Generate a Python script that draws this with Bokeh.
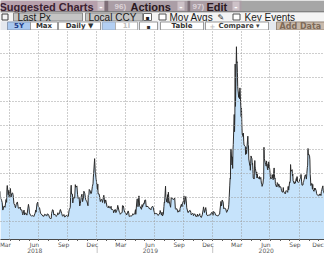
import pandas as pd
from bokeh.plotting import figure
from bokeh.layouts import column
from bokeh.models import Range1d, FixedTicker
from bokeh.core.properties import value
from bokeh.embed import file_html
from bokeh.resources import INLINE

# ---------------- data (daily closes, MM-DD per year) -------------
DATES_2018 = ("03-01 03-02 03-05 03-07 03-09 03-13 03-16 03-19 03-21 03-22 03-23 03-26 03-28 03-29 "
              "04-02 04-04 04-06 04-09 04-11 04-13 04-16 04-18 04-20 04-24 04-26 04-27 "
              "05-01 05-03 05-04 05-08 05-10 05-11 05-15 05-17 05-18 05-22 05-24 05-25 05-29 05-31 "
              "06-01 06-05 06-07 06-08 06-12 06-14 06-15 06-19 06-21 06-22 06-25 06-27 06-29 "
              "07-03 07-06 07-10 07-12 07-13 07-17 07-19 07-20 07-24 07-26 07-27 07-31 "
              "08-02 08-03 08-07 08-09 08-10 08-13 08-15 08-17 08-21 08-23 08-24 08-28 08-30 08-31 "
              "09-04 09-06 09-07 09-11 09-13 09-14 09-18 09-20 09-21 09-25 09-27 09-28 "
              "10-02 10-04 10-05 10-08 10-10 10-11 10-12 10-15 10-16 10-18 10-19 10-22 10-24 10-25 10-26 10-29 10-31 "
              "11-02 11-05 11-07 11-09 11-12 11-14 11-16 11-19 11-20 11-23 11-26 11-28 11-30 "
              "12-03 12-04 12-06 12-07 12-10 12-12 12-14 12-17 12-19 12-20 12-21 12-24 12-26 12-27 12-28 12-31").split()
VIX_2018 = [22.47, 19.59, 18.73, 17.76, 14.64, 16.35, 15.80, 19.02, 17.86, 23.34, 24.87, 21.03, 22.87, 19.97,
            23.62, 20.06, 21.49, 21.77, 20.47, 17.41, 16.56, 15.60, 16.88, 18.02, 16.24, 15.41,
            15.49, 15.90, 14.77, 14.71, 13.23, 12.65, 14.63, 12.59, 13.42, 13.22, 12.53, 13.22, 17.02, 15.43,
            13.46, 12.40, 12.13, 12.18, 12.34, 12.12, 11.98, 13.35, 14.64, 13.77, 17.33, 17.91, 16.09,
            15.60, 13.37, 12.64, 12.58, 12.18, 12.06, 12.87, 12.86, 12.41, 12.14, 13.03, 12.83,
            12.19, 11.64, 10.93, 11.27, 13.16, 14.78, 14.64, 12.64, 12.86, 12.41, 11.99, 12.50, 13.53, 12.86,
            13.16, 14.65, 14.88, 13.22, 12.37, 12.07, 12.79, 11.80, 11.68, 12.42, 12.41, 12.12,
            12.05, 14.22, 14.82, 15.69, 22.96, 24.98, 21.31, 21.30, 17.62, 20.06, 19.89, 19.64, 25.23, 24.22, 24.16, 24.70, 21.23,
            19.51, 19.96, 16.36, 17.36, 20.45, 21.25, 18.14, 20.10, 22.48, 21.52, 18.90, 18.49, 18.07,
            16.44, 20.74, 21.19, 23.23, 22.64, 21.46, 21.63, 24.52, 25.58, 28.38, 30.11, 36.07, 30.41, 29.96, 28.34, 25.42]

DATES_2019 = ("01-02 01-03 01-04 01-07 01-09 01-11 01-14 01-16 01-18 01-22 01-24 01-25 01-28 01-30 "
              "02-01 02-05 02-07 02-08 02-12 02-14 02-15 02-19 02-21 02-22 02-26 02-28 "
              "03-01 03-05 03-07 03-08 03-12 03-14 03-15 03-19 03-21 03-22 03-25 03-27 03-29 "
              "04-02 04-04 04-05 04-09 04-11 04-12 04-16 04-18 04-22 04-24 04-26 04-30 "
              "05-02 05-03 05-07 05-09 05-10 05-13 05-15 05-17 05-21 05-23 05-24 05-28 05-30 05-31 "
              "06-03 06-05 06-07 06-11 06-13 06-14 06-18 06-20 06-21 06-25 06-27 06-28 "
              "07-02 07-05 07-09 07-11 07-12 07-16 07-18 07-19 07-23 07-25 07-26 07-29 07-31 "
              "08-01 08-02 08-05 08-06 08-07 08-09 08-12 08-13 08-14 08-16 08-19 08-21 08-23 08-26 08-28 08-30 "
              "09-03 09-05 09-06 09-10 09-12 09-13 09-17 09-19 09-20 09-24 09-26 09-27 "
              "10-01 10-02 10-03 10-04 10-08 10-10 10-11 10-15 10-17 10-18 10-22 10-24 10-25 10-29 10-31 "
              "11-01 11-05 11-07 11-08 11-12 11-14 11-15 11-19 11-21 11-22 11-26 11-29 "
              "12-02 12-03 12-05 12-06 12-10 12-12 12-13 12-17 12-19 12-20 12-24 12-26 12-27 12-31").split()
VIX_2019 = [23.22, 25.45, 21.38, 21.40, 19.98, 18.19, 19.07, 19.04, 17.80, 20.80, 18.89, 17.42, 18.87, 17.66,
            16.14, 15.57, 16.37, 15.72, 15.43, 16.22, 14.91, 14.88, 14.46, 13.51, 14.85, 14.78,
            13.57, 14.74, 16.59, 16.05, 13.77, 13.50, 12.88, 13.56, 13.63, 16.48, 16.33, 14.68, 13.71,
            13.36, 12.58, 12.82, 14.28, 13.30, 12.01, 12.18, 12.09, 12.42, 13.14, 12.73, 13.12,
            14.80, 12.87, 19.32, 19.10, 16.04, 20.55, 16.44, 15.96, 14.95, 16.92, 15.85, 17.50, 17.30, 18.71,
            18.86, 15.93, 16.30, 15.99, 15.82, 15.28, 15.15, 14.75, 15.40, 16.28, 15.82, 15.08,
            12.93, 13.28, 13.03, 12.93, 12.39, 12.86, 13.53, 14.45, 12.61, 13.74, 12.16, 12.83, 16.12,
            17.87, 17.61, 24.59, 20.17, 19.49, 17.97, 21.09, 17.52, 22.10, 18.47, 16.88, 15.80, 19.87, 19.32, 19.35, 18.98,
            19.66, 15.27, 15.00, 15.20, 14.22, 13.74, 14.44, 14.05, 15.32, 17.05, 16.07, 17.22,
            18.56, 20.56, 19.12, 17.04, 20.28, 17.57, 15.58, 13.54, 13.79, 14.25, 14.46, 13.71, 12.65, 13.20, 13.22,
            12.30, 13.10, 12.73, 12.07, 11.99, 13.00, 12.05, 12.41, 13.13, 12.34, 11.54, 12.62,
            14.91, 15.96, 14.52, 13.62, 15.68, 13.94, 12.63, 12.29, 12.50, 12.51, 12.67, 12.65, 13.43, 13.78]

DATES_2020 = ("01-02 01-03 01-06 01-08 01-10 01-14 01-16 01-17 01-21 01-23 01-24 01-27 01-29 01-31 "
              "02-03 02-05 02-07 02-11 02-13 02-14 02-18 02-20 02-21 02-24 02-25 02-26 02-27 02-28 "
              "03-02 03-03 03-04 03-05 03-06 03-09 03-10 03-11 03-12 03-13 03-16 03-17 03-18 03-19 03-20 "
              "03-23 03-24 03-25 03-26 03-27 03-30 03-31 "
              "04-01 04-02 04-03 04-06 04-07 04-08 04-09 04-13 04-14 04-15 04-16 04-17 04-20 04-21 04-22 04-23 04-24 "
              "04-27 04-28 04-29 04-30 05-01 05-04 05-05 05-06 05-07 05-08 05-11 05-12 05-13 05-14 05-15 "
              "05-18 05-19 05-20 05-21 05-22 05-26 05-27 05-28 05-29 06-01 06-02 06-03 06-04 06-05 "
              "06-08 06-09 06-10 06-11 06-12 06-15 06-16 06-17 06-18 06-19 06-22 06-23 06-24 06-25 06-26 "
              "06-29 06-30 07-01 07-02 07-06 07-07 07-08 07-09 07-10 07-13 07-14 07-15 07-16 07-17 "
              "07-20 07-21 07-22 07-23 07-24 07-27 07-28 07-29 07-30 07-31 08-03 08-04 08-05 08-06 08-07 "
              "08-10 08-11 08-12 08-13 08-14 08-17 08-18 08-19 08-20 08-21 08-24 08-25 08-26 08-27 08-28 "
              "08-31 09-01 09-02 09-03 09-04 09-08 09-09 09-10 09-11 09-14 09-15 09-16 09-17 09-18 "
              "09-21 09-22 09-23 09-24 09-25 09-28 09-29 09-30 10-01 10-02 10-05 10-06 10-07 10-08 10-09 "
              "10-12 10-13 10-14 10-15 10-16 10-19 10-20 10-21 10-22 10-23 10-26 10-27 10-28 10-29 10-30 "
              "11-02 11-03 11-04 11-05 11-06 11-09 11-10 11-11 11-12 11-13 11-16 11-17 11-18 11-19 11-20 "
              "11-23 11-24 11-25 11-27 11-30 12-01 12-02 12-03 12-04 12-07 12-08 12-09 12-10 12-11 "
              "12-14 12-15 12-16 12-17 12-18").split()
VIX_2020 = [12.47, 14.02, 13.85, 13.45, 12.56, 12.39, 12.32, 12.10, 12.85, 12.98, 14.56, 18.23, 16.39, 18.84,
            17.97, 15.15, 15.47, 15.18, 14.15, 13.68, 14.83, 15.56, 17.08, 25.03, 27.85, 27.56, 39.16, 40.11,
            33.42, 36.82, 31.99, 39.62, 41.94, 54.46, 47.30, 53.90, 75.47, 57.83, 82.69, 75.91, 76.45, 72.00, 66.04,
            61.59, 61.67, 63.95, 61.00, 65.54, 57.08, 53.54,
            57.06, 50.91, 46.80, 45.24, 46.70, 43.35, 41.67, 41.17, 37.76, 40.84, 40.11, 38.15, 43.83, 45.41, 41.98, 41.38, 35.93,
            33.29, 33.57, 31.23, 34.15, 37.19, 35.97, 33.61, 34.12, 31.44, 27.98, 27.57, 33.04, 35.28, 32.61, 31.89,
            29.30, 30.53, 27.99, 29.53, 28.16, 28.01, 27.62, 28.59, 27.51, 28.23, 26.84, 25.66, 25.81, 24.52,
            25.81, 27.57, 27.57, 40.79, 36.09, 34.40, 33.67, 33.47, 32.94, 35.12, 31.77, 31.37, 33.84, 32.22, 34.73,
            31.78, 30.43, 28.62, 27.68, 27.94, 29.43, 28.08, 29.26, 27.29, 32.19, 29.52, 27.76, 28.00, 25.68,
            24.46, 24.84, 24.32, 26.08, 25.84, 24.74, 25.44, 24.10, 24.76, 24.46, 24.28, 23.76, 22.99, 22.65, 22.21,
            22.13, 24.03, 22.28, 22.28, 22.05, 21.35, 21.51, 22.54, 22.72, 22.54, 22.37, 22.03, 24.47, 24.47, 22.96,
            26.41, 26.12, 26.57, 33.60, 30.75, 31.46, 28.81, 29.71, 26.87, 25.85, 25.59, 26.04, 26.46, 25.83,
            27.78, 26.86, 28.58, 28.51, 26.38, 26.19, 26.27, 26.37, 26.70, 27.63, 27.96, 29.48, 28.06, 26.36, 25.00,
            25.07, 26.07, 26.40, 26.97, 27.41, 29.18, 29.35, 28.65, 28.11, 27.55, 32.46, 33.35, 40.28, 37.59, 38.02,
            37.13, 35.55, 29.57, 27.58, 24.86, 25.75, 24.80, 23.45, 25.35, 23.10, 22.45, 22.71, 23.84, 23.11, 23.70,
            22.66, 21.64, 21.25, 20.84, 20.57, 20.77, 21.17, 21.28, 20.79, 21.30, 20.68, 22.27, 22.52, 23.31,
            24.72, 22.89, 22.50, 21.93, 21.57]

# axis / grid description
VIEW_START, VIEW_END = "2018-03-01 16:00", "2020-12-19 04:00"
Y_MIN, Y_MAX = 2.375, 89.46
Y_GRID = [10, 20, 30, 40, 50, 60, 70, 80]
GRID_DATES = ["2018-03-31", "2018-06-30", "2018-09-30", "2018-12-31", "2019-03-31", "2019-06-30",
              "2019-09-30", "2019-12-31", "2020-03-31", "2020-06-30", "2020-09-30", "2020-12-31"]
MONTH_TICK_DATES = ["2018-03-17", "2018-06-17", "2018-09-17", "2018-12-17", "2019-03-17", "2019-06-17",
                    "2019-09-17", "2019-12-17", "2020-03-17", "2020-06-17", "2020-09-17", "2020-11-29"]
MONTH_LABELS = ["Mar", "Jun", "Sep", "Dec", "Mar", "Jun", "Sep", "Dec", "Mar", "Jun", "Sep", "Dec"]
YEAR_LABEL_DATES = ["2018-06-18", "2019-06-18", "2020-06-18"]
YEAR_LABELS = ["2018", "2019", "2020"]
YEAR_BREAKS = ["2019-01-01", "2020-01-01"]

EPOCH = pd.Timestamp("2018-01-01")


def to_days(strings):
    return [float((pd.Timestamp(s) - EPOCH) / pd.Timedelta(days=1)) for s in strings]


dates = ([f"2018-{d}" for d in DATES_2018] + [f"2019-{d}" for d in DATES_2019]
         + [f"2020-{d}" for d in DATES_2020])
vix = VIX_2018 + VIX_2019 + VIX_2020
x = to_days(dates)

month_starts = to_days(pd.date_range("2018-03-01", "2020-12-01", freq="MS").strftime("%Y-%m-%d"))
x_range = Range1d(*to_days([VIEW_START, VIEW_END]))

# ---------------- main chart -------------
p = figure(width=324, height=211, output_backend="svg", toolbar_location=None,
           x_range=x_range, y_range=Range1d(Y_MIN, Y_MAX),
           y_axis_location=None, min_border_left=0, min_border_right=0,
           min_border_top=0, min_border_bottom=2)
p.outline_line_color = None
p.background_fill_color = "white"
p.border_fill_color = "white"

p.varea(x=x, y1=0, y2=vix, fill_color="#c6e3fb")
p.line(x=x, y=vix, line_color="#2b2b2b", line_width=1)

p.xgrid.ticker = FixedTicker(ticks=to_days(GRID_DATES))
p.ygrid.ticker = FixedTicker(ticks=Y_GRID)
for g in (p.xgrid, p.ygrid):
    g.grid_line_color = "#9c9c9c"
    g.grid_line_dash = "1 2"
    g.grid_line_width = 1
    g.level = "overlay"

ax = p.xaxis[0]
ax.ticker = FixedTicker(ticks=[], minor_ticks=month_starts)
ax.major_tick_out = 0
ax.major_tick_in = 0
ax.minor_tick_out = 2
ax.minor_tick_in = 0
ax.minor_tick_line_color = "#606060"
ax.axis_line_color = "#4a4a4a"
ax.major_label_standoff = 0

# ---------------- date label strip under the axis (shares the x scale) -------------
s = figure(width=324, height=12, output_backend="svg", toolbar_location=None,
           x_range=x_range, y_range=Range1d(12, 0),
           x_axis_location=None, y_axis_location=None, min_border=0)
s.grid.visible = False
s.outline_line_color = None
s.background_fill_color = "white"
s.border_fill_color = "white"
s.segment(x0=to_days(YEAR_BREAKS), x1=to_days(YEAR_BREAKS), y0=5, y1=12,
          line_color="#c4c4c4", line_width=1)
s.text(x=to_days(MONTH_TICK_DATES), y=3, text=MONTH_LABELS, text_font=value("DejaVu Sans"),
       text_font_size="6px", text_color="#505050", text_align="center", text_baseline="middle")
s.text(x=to_days(YEAR_LABEL_DATES), y=8.8, text=YEAR_LABELS, text_font=value("DejaVu Sans"),
       text_font_size="6px", text_color="#606060", text_align="center", text_baseline="middle")

# ---------------- Bloomberg style header -------------
h = figure(width=324, height=30, output_backend="svg", toolbar_location=None,
           x_range=Range1d(0, 324), y_range=Range1d(30, 0),
           x_axis_location=None, y_axis_location=None, min_border=0)
h.grid.visible = False
h.outline_line_color = None
h.background_fill_color = "#eeeeee"
h.border_fill_color = "#eeeeee"


def box(l, r, t, b, fill, line=None):
    h.quad(left=[l], right=[r], top=[t], bottom=[b], fill_color=fill,
           line_color=line, line_width=1 if line else 0)


def txt(xp, yp, s_, size, color, bold=False, align="left", font="DejaVu Sans"):
    h.text(x=[xp], y=[yp], text=[s_], text_font=value(font), text_font_size=f"{size}px",
           text_color=color, text_font_style="bold" if bold else "normal",
           text_align=align, text_baseline="middle")


# row 1
box(0, 324, 0, 11.5, "#a6a6a6")
box(0, 97, 0, 11, "#b7a0ac")
box(97, 104, 1, 10, "#cdbdc5")
box(104, 108, 0, 11, "#7e6e77")
box(108, 187, 0, 11, "#ab9ea6")
box(177, 184, 1, 10, "#cdc1c7")
box(187, 190, 0, 11, "#7e6e77")
box(190, 241, 0, 11, "#ab9ea6")
box(232, 239, 1, 10, "#cdc1c7")
box(0, 324, 11, 12, "#5e5e5e")
txt(-1, 6, "Suggested Charts", 11, "#3a2030", bold=True, font="Liberation Sans")
txt(100.5, 5.5, "-", 8, "white", bold=True, align="center")
txt(114, 6, "96)", 8, "#ddd3d8", bold=True, font="Liberation Sans")
txt(130, 6, "Actions", 11, "#2a1820", bold=True, font="Liberation Sans")
txt(180.5, 5.5, "-", 8, "white", bold=True, align="center")
txt(192, 6, "97)", 8, "#ddd3d8", bold=True, font="Liberation Sans")
txt(206, 6, "Edit", 11, "#2a1820", bold=True, font="Liberation Sans")
txt(235.5, 5.5, "-", 8, "white", bold=True, align="center")

# row 2
box(0, 324, 12, 21, "#f4f4f4")
box(1.5, 7.5, 13.5, 19.5, "#f4f4f4", "#404040")
box(13, 82, 12.5, 20.5, "#c4c4c4", "#8a8a8a")
txt(17, 16.5, "Last Px", 10, "#1a1a1a", font="Liberation Sans")
box(85, 142, 12.5, 20.5, "#c4c4c4", "#8a8a8a")
txt(88, 16.5, "Local CCY", 10, "#1a1a1a", font="Liberation Sans")
box(143, 151, 13, 20, "white", "#6a6a6a")
txt(147, 16.5, "\u25aa", 6, "#202020", align="center")
box(158.5, 165.5, 13.5, 19.5, "white", "#505050")
txt(169, 16.5, "Mov Avgs", 10, "#1a1a1a", font="Liberation Sans")
txt(217, 16.5, "\u270e", 8, "#303030")
box(232.5, 239.5, 13.5, 19.5, "white", "#505050")
txt(244, 16.5, "Key Events", 10, "#1a1a1a", font="Liberation Sans")

# row 3
box(0, 324, 21, 30, "#e4e8ee")
box(7, 30, 21.5, 29.5, "#a9c8ef", "#8c9cb4")
txt(18.5, 25.5, "5Y", 7, "#1c3a86", bold=True, align="center")
box(30, 57, 21.5, 29.5, "white", "#9a9a9a")
txt(43.5, 25.5, "Max", 7, "#303030", bold=True, align="center")
box(58, 100, 21.5, 29.5, "white", "#9a9a9a")
txt(79, 25.5, "Daily \u25bc", 7, "#303030", bold=True, align="center")
box(102, 115, 21.5, 29.5, "#b3cff2", "#9cb0c8")
box(115, 137, 21.5, 29.5, "white", "#b0b0b0")
txt(126, 25.5, "1l", 7, "#c0c0c0", bold=True, align="center")
box(139, 157, 21.5, 29.5, "white", "#9a9a9a")
txt(148, 25.5, "\u25aa", 6, "#303030", align="center")
box(160, 203, 21.5, 29.5, "white", "#9a9a9a")
txt(181.5, 25.5, "Table", 7, "#303030", bold=True, align="center")
box(205, 268, 21.5, 29.5, "white", "#9a9a9a")
txt(212, 25.5, "+", 7, "#c0c0c0", bold=True, align="center")
txt(218, 25.5, "Compare \u25be", 7, "#404040", bold=True)
box(276, 324, 21.5, 29.5, "#c9baac", "#9a8a7a")
txt(279, 25.5, "Add Data", 8, "#7e6a58", bold=True)

layout = column(h, p, s, spacing=0)
open("out.html", "w").write(file_html(layout, INLINE))
